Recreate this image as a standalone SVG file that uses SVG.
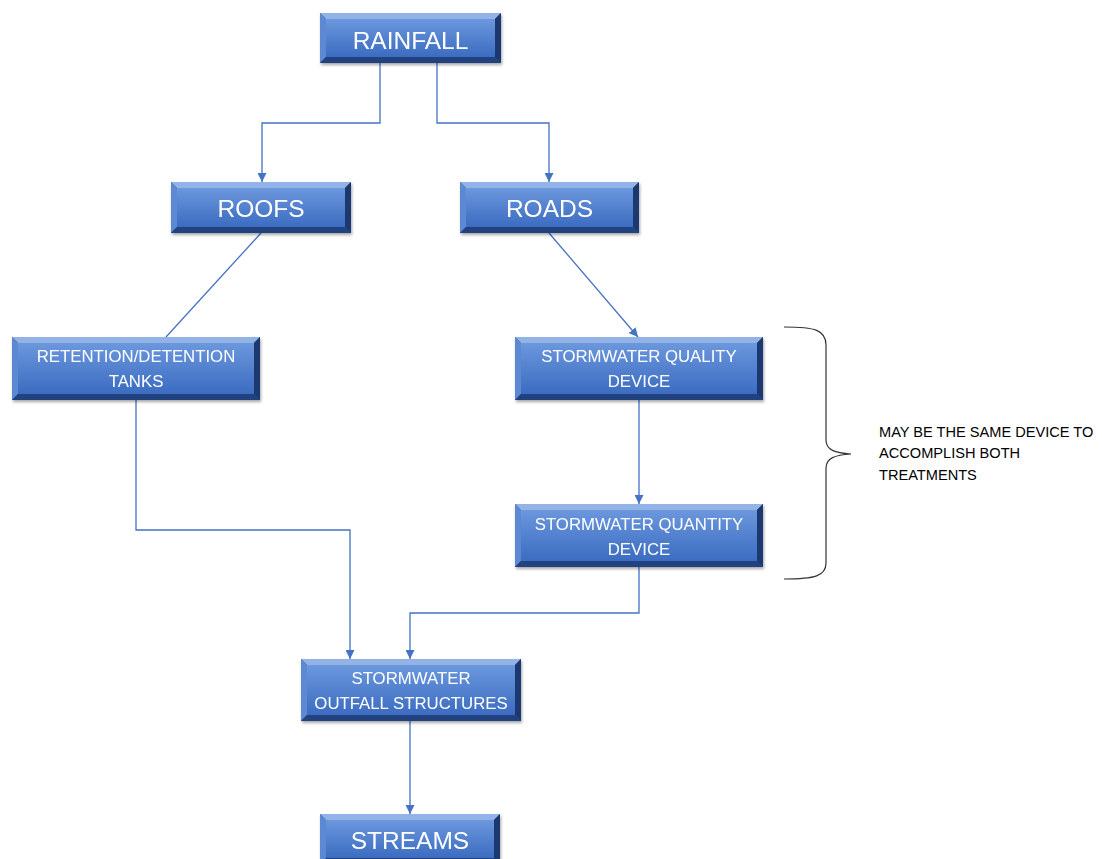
<svg xmlns="http://www.w3.org/2000/svg" width="1102" height="859" viewBox="0 0 1102 859">
<style>
.o{fill:#2b4f94}
.t{fill:#93b2e6}
.l{fill:#5d88d2}
.r{fill:#1d3870}
.b{fill:#23437f}
.f{fill:url(#face)}
.lbl{font-family:"Liberation Sans",Arial,sans-serif;fill:#ffffff;text-anchor:middle}
.big{font-size:24.5px}
.sm{font-size:16.8px}
.c{fill:none;stroke:#4472c4;stroke-width:1.3}
.note{font-family:"Liberation Sans",Arial,sans-serif;font-size:14.6px;fill:#000000}
</style>
<defs>
<linearGradient id="face" x1="0" y1="0" x2="0" y2="1">
<stop offset="0" stop-color="#6b97dd"/>
<stop offset="1" stop-color="#3c6cc1"/>
</linearGradient>
<filter id="sh" x="-10%" y="-10%" width="120%" height="140%">
<feDropShadow dx="1" dy="2" stdDeviation="1.5" flood-color="#000" flood-opacity="0.35"/>
</filter>
<marker id="ah" markerWidth="9" markerHeight="9" refX="9" refY="4.5" orient="auto" markerUnits="userSpaceOnUse">
<path d="M0,0 L9,4.5 L0,9 z" fill="#4472c4"/>
</marker>
</defs>
<rect width="1102" height="859" fill="#ffffff"/>
<g id="connectors">
<path class="c" d="M380,63 V123 H262 V182" marker-end="url(#ah)"/>
<path class="c" d="M437,63 V123 H549 V182" marker-end="url(#ah)"/>
<path class="c" d="M261,233 L166,337"/>
<path class="c" d="M549,233 L638,337" marker-end="url(#ah)"/>
<path class="c" d="M639,400 V504" marker-end="url(#ah)"/>
<path class="c" d="M136,400 V530 H350 V659" marker-end="url(#ah)"/>
<path class="c" d="M639,567 V613 H410 V659" marker-end="url(#ah)"/>
<path class="c" d="M410,721 V814" marker-end="url(#ah)"/>
</g>
<g id="rainfall" filter="url(#sh)">
<rect class="o" x="320" y="13" width="181" height="50"/>
<polygon class="t" points="320,13 501,13 495,19 326,19"/>
<polygon class="l" points="320,13 326,19 326,57 320,63"/>
<polygon class="r" points="501,13 501,63 495,57 495,19"/>
<polygon class="b" points="320,63 326,57 495,57 501,63"/>
<rect class="f" x="326" y="19" width="169" height="38"/>
<text class="lbl big" x="410.5" y="48.5">RAINFALL</text>
</g>
<g id="roofs" filter="url(#sh)">
<rect class="o" x="171" y="182" width="180" height="51"/>
<polygon class="t" points="171,182 351,182 345,188 177,188"/>
<polygon class="l" points="171,182 177,188 177,227 171,233"/>
<polygon class="r" points="351,182 351,233 345,227 345,188"/>
<polygon class="b" points="171,233 177,227 345,227 351,233"/>
<rect class="f" x="177" y="188" width="168" height="39"/>
<text class="lbl big" x="261" y="217">ROOFS</text>
</g>
<g id="roads" filter="url(#sh)">
<rect class="o" x="460" y="182" width="179" height="51"/>
<polygon class="t" points="460,182 639,182 633,188 466,188"/>
<polygon class="l" points="460,182 466,188 466,227 460,233"/>
<polygon class="r" points="639,182 639,233 633,227 633,188"/>
<polygon class="b" points="460,233 466,227 633,227 639,233"/>
<rect class="f" x="466" y="188" width="167" height="39"/>
<text class="lbl big" x="549.5" y="217">ROADS</text>
</g>
<g id="retention" filter="url(#sh)">
<rect class="o" x="12" y="337" width="248" height="63"/>
<polygon class="t" points="12,337 260,337 254,343 18,343"/>
<polygon class="l" points="12,337 18,343 18,394 12,400"/>
<polygon class="r" points="260,337 260,400 254,394 254,343"/>
<polygon class="b" points="12,400 18,394 254,394 260,400"/>
<rect class="f" x="18" y="343" width="236" height="51"/>
<text class="lbl sm" x="136" y="362">RETENTION/DETENTION</text>
<text class="lbl sm" x="136" y="387">TANKS</text>
</g>
<g id="quality" filter="url(#sh)">
<rect class="o" x="515" y="337" width="248" height="63"/>
<polygon class="t" points="515,337 763,337 757,343 521,343"/>
<polygon class="l" points="515,337 521,343 521,394 515,400"/>
<polygon class="r" points="763,337 763,400 757,394 757,343"/>
<polygon class="b" points="515,400 521,394 757,394 763,400"/>
<rect class="f" x="521" y="343" width="236" height="51"/>
<text class="lbl sm" x="639" y="362">STORMWATER QUALITY</text>
<text class="lbl sm" x="639" y="387">DEVICE</text>
</g>
<g id="quantity" filter="url(#sh)">
<rect class="o" x="515" y="504" width="248" height="63"/>
<polygon class="t" points="515,504 763,504 757,510 521,510"/>
<polygon class="l" points="515,504 521,510 521,561 515,567"/>
<polygon class="r" points="763,504 763,567 757,561 757,510"/>
<polygon class="b" points="515,567 521,561 757,561 763,567"/>
<rect class="f" x="521" y="510" width="236" height="51"/>
<text class="lbl sm" x="639" y="530">STORMWATER QUANTITY</text>
<text class="lbl sm" x="639" y="555">DEVICE</text>
</g>
<g id="outfall" filter="url(#sh)">
<rect class="o" x="301" y="659" width="220" height="62"/>
<polygon class="t" points="301,659 521,659 515,665 307,665"/>
<polygon class="l" points="301,659 307,665 307,715 301,721"/>
<polygon class="r" points="521,659 521,721 515,715 515,665"/>
<polygon class="b" points="301,721 307,715 515,715 521,721"/>
<rect class="f" x="307" y="665" width="208" height="50"/>
<text class="lbl sm" x="411" y="684">STORMWATER</text>
<text class="lbl sm" x="411" y="709">OUTFALL STRUCTURES</text>
</g>
<g id="streams" filter="url(#sh)">
<rect class="o" x="320" y="814" width="180" height="50"/>
<polygon class="t" points="320,814 500,814 494,820 326,820"/>
<polygon class="l" points="320,814 326,820 326,858 320,864"/>
<polygon class="r" points="500,814 500,864 494,858 494,820"/>
<polygon class="b" points="320,864 326,858 494,858 500,864"/>
<rect class="f" x="326" y="820" width="168" height="38"/>
<text class="lbl big" x="410" y="849">STREAMS</text>
</g>
<g id="brace-note">
<path d="M784,327 C815,327 826,330 826,345 V440 C826,450 835,453 851,454 C835,455 826,458 826,468 V563 C826,576 815,579 784,579" fill="none" stroke="#333333" stroke-width="1.2"/>
<text class="note" x="879" y="437">MAY BE THE SAME DEVICE TO</text>
<text class="note" x="879" y="458">ACCOMPLISH BOTH</text>
<text class="note" x="879" y="480">TREATMENTS</text>
</g>
</svg>
